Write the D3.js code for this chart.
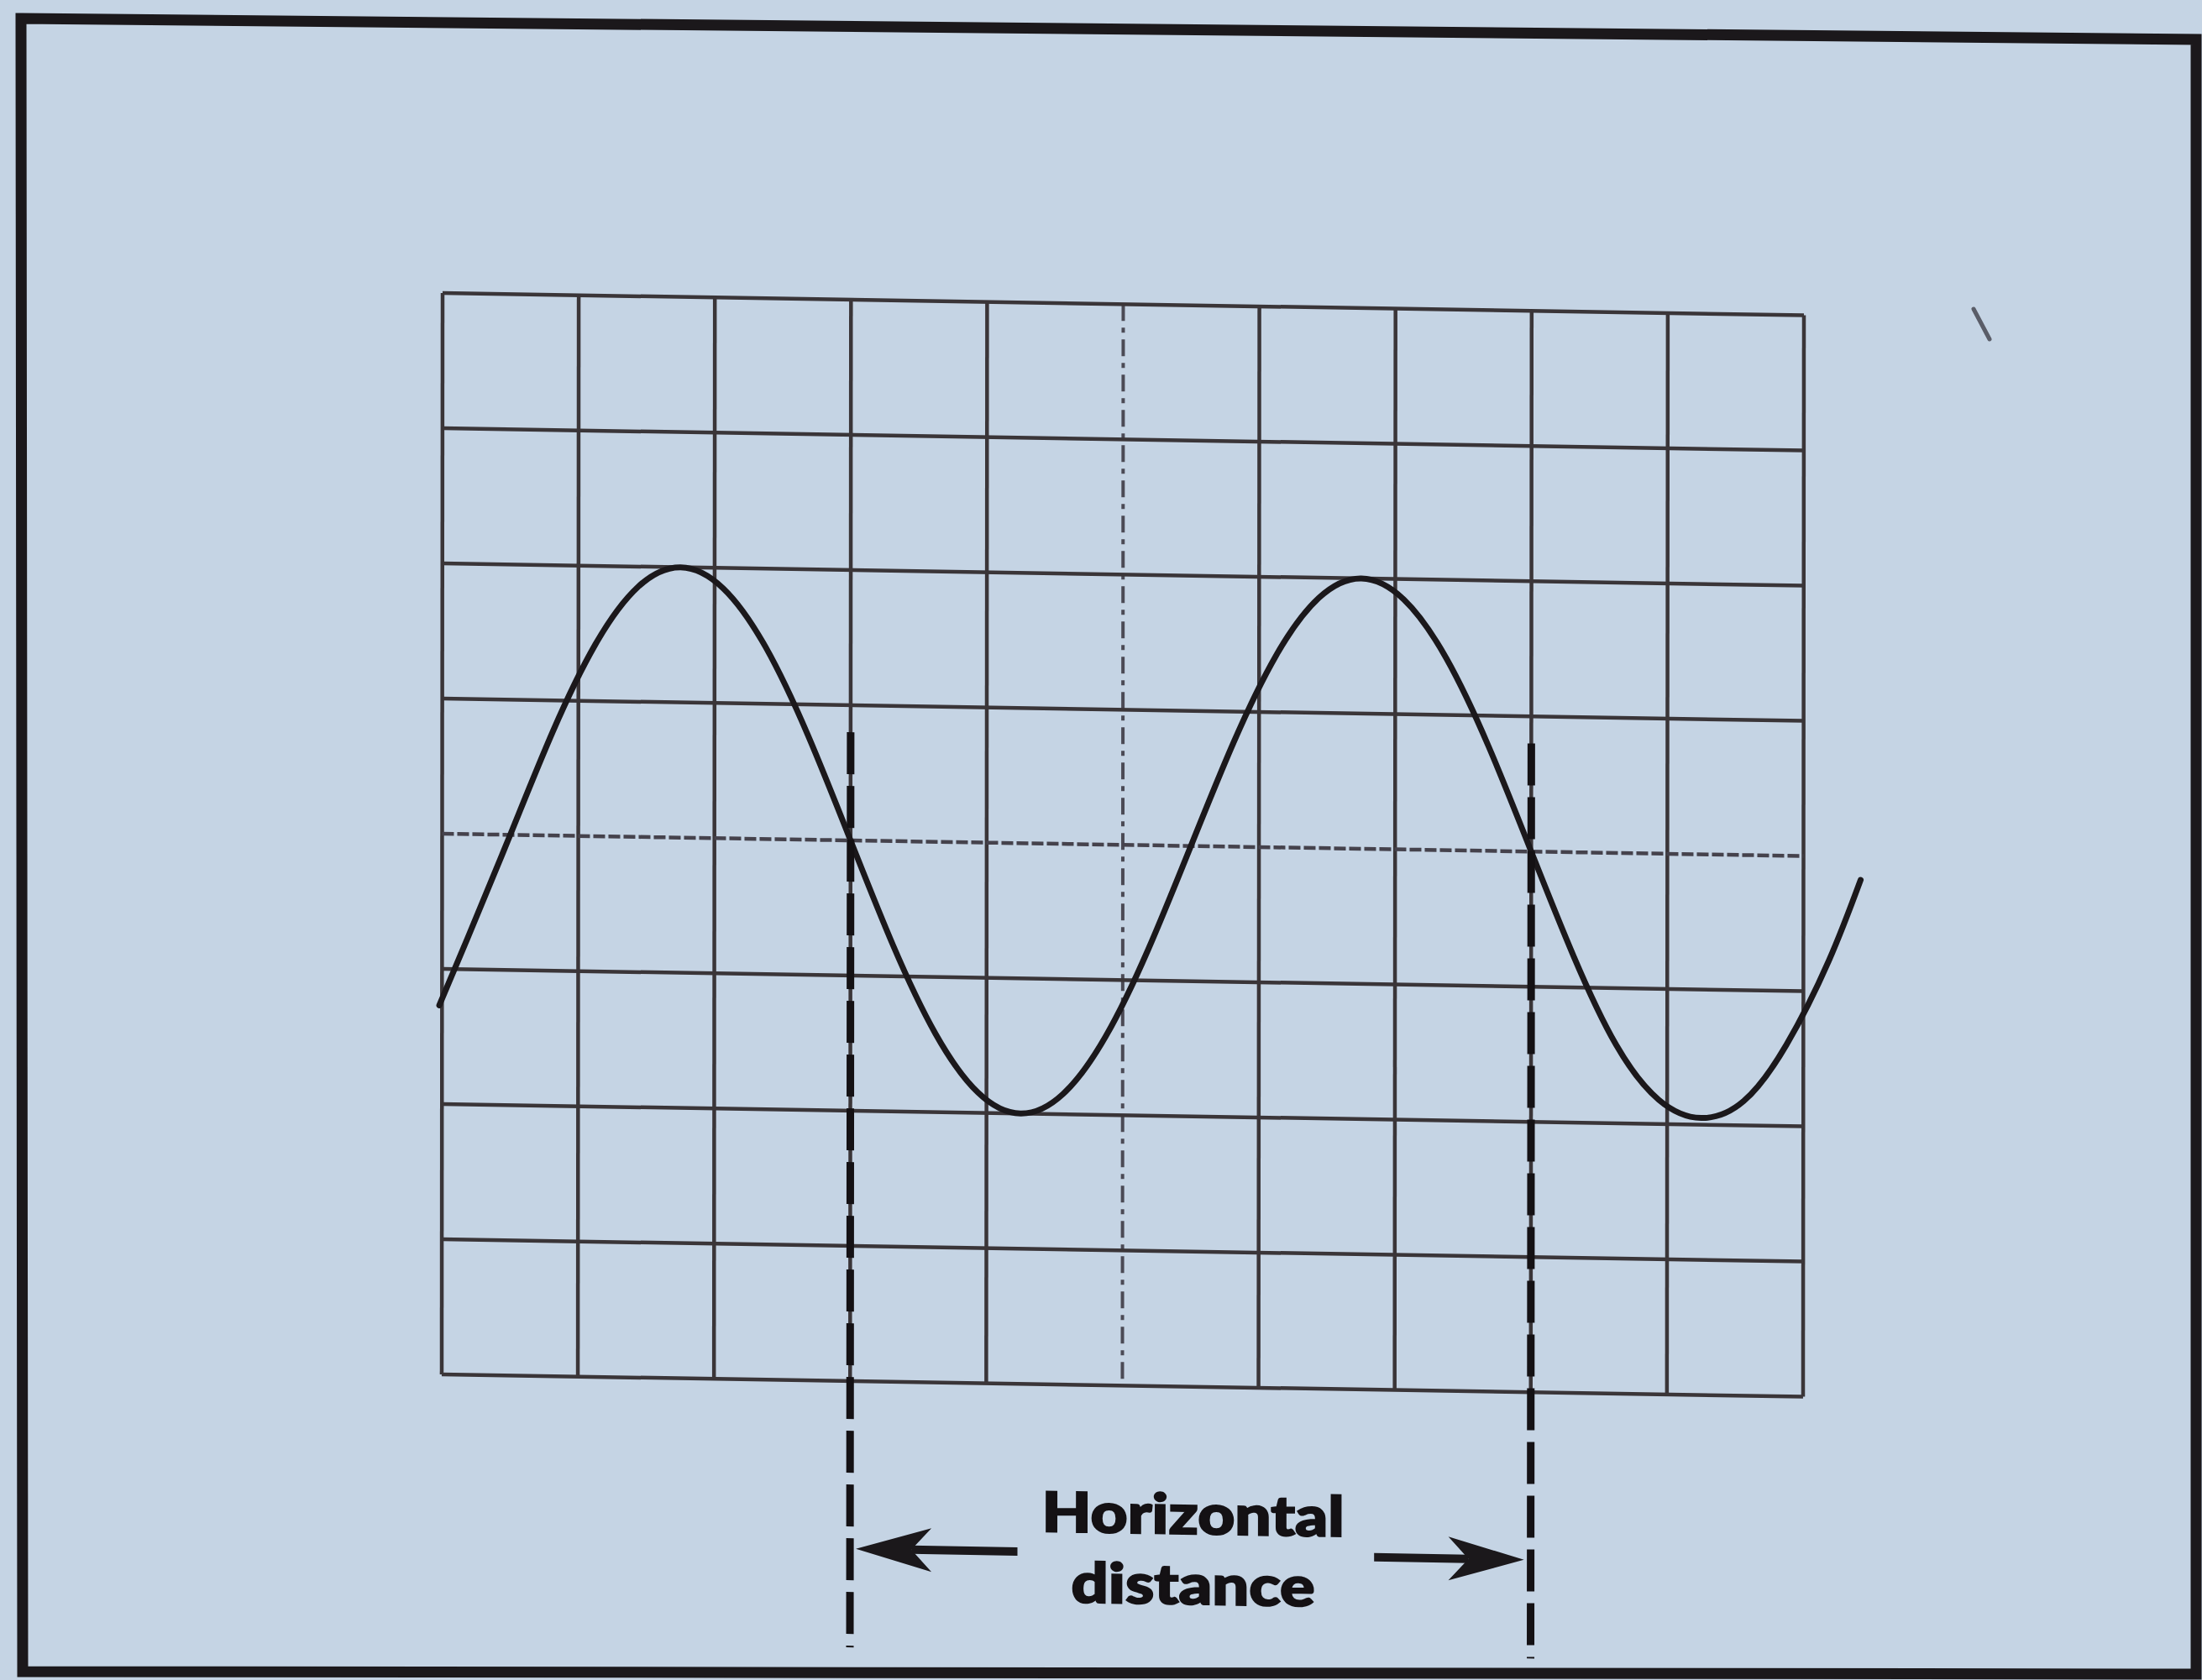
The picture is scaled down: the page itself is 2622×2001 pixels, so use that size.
<!DOCTYPE html>
<html>
<head>
<meta charset="utf-8">
<script src="https://cdn.jsdelivr.net/npm/d3@7"></script>
<style>
  html, body { margin: 0; padding: 0; background: #c5d4e4; }
  svg { display: block; }
</style>
</head>
<body>
<svg id="chart" width="2622" height="2001"></svg>
<script>
// ---- data (in graticule divisions) ----
const xDivisions = [0, 1, 2, 3, 4, 5, 6, 7, 8, 9, 10];
const yDivisions = [-4, -3, -2, -1, 0, 1, 2, 3, 4];
const traceX = [-0.02, 0.1875, 0.5, 0.8125, 1.125, 1.4375, 1.75, 2.0625, 2.375, 2.6875,
                3.0, 3.3125, 3.625, 3.9375, 4.25, 4.5625, 4.875, 5.1875, 5.5, 5.8125,
                6.125, 6.4375, 6.75, 7.0625, 7.375, 7.6875, 8.0, 8.3125, 8.625, 8.9375,
                9.25, 9.5625, 9.875, 10.1875, 10.42];
const traceY = [-1.27, -0.77, 0, 0.77, 1.42, 1.85, 2.0, 1.85, 1.42, 0.77,
                0, -0.77, -1.42, -1.85, -2.0, -1.85, -1.42, -0.77, 0, 0.77,
                1.42, 1.85, 2.0, 1.85, 1.42, 0.77, 0, -0.77, -1.42, -1.82,
                -1.95, -1.82, -1.40, -0.77, -0.17];
const markerX = [3, 8];            // dashed measurement lines
const labelLines = ["Horizontal", "distance"];

// ---- layout ----
const svg = d3.select("#chart");
const ink = "#1b181b";
const gridInk = "#3a3538";

// outer frame (photographed slightly out of square)
const framePts = [[25, 22], [2615, 47], [2615, 1994], [27, 1991]];
svg.append("polygon")
  .attr("points", framePts.map(p => p.join(",")).join(" "))
  .attr("fill", "none")
  .attr("stroke", ink)
  .attr("stroke-width", 13)
  .attr("stroke-linejoin", "miter");

// stray mark on the paper
svg.append("line")
  .attr("x1", 2350).attr("y1", 368).attr("x2", 2369).attr("y2", 404)
  .attr("stroke", "#5a5d68").attr("stroke-width", 5).attr("stroke-linecap", "round");

// graticule group with the photo's slight skew
const g = svg.append("g")
  .attr("transform", "matrix(1,0.0164,-0.0008,1,527,349)");

const x = d3.scaleLinear().domain([0, 10]).range([0, 1621]);
const y = d3.scaleLinear().domain([4, -4]).range([0, 1288]);

// vertical grid lines
g.append("g").selectAll("line")
  .data(xDivisions)
  .join("line")
  .attr("x1", d => x(d)).attr("x2", d => x(d))
  .attr("y1", y(4)).attr("y2", y(-4))
  .attr("stroke", d => d === 5 ? "#4b4a55" : gridInk)
  .attr("stroke-width", d => d === 5 ? 4 : 4.5)
  .attr("stroke-dasharray", d => d === 5 ? "20 8 6 8" : null);

// horizontal grid lines
g.append("g").selectAll("line")
  .data(yDivisions)
  .join("line")
  .attr("x1", x(0)).attr("x2", x(10))
  .attr("y1", d => y(d)).attr("y2", d => y(d))
  .attr("stroke", d => d === 0 ? "#45424c" : gridInk)
  .attr("stroke-width", 4.5)
  .attr("stroke-dasharray", d => d === 0 ? "14 4" : null);

// sine trace
const trace = traceX.map((v, i) => [v, traceY[i]]);
g.append("path")
  .datum(trace)
  .attr("fill", "none")
  .attr("stroke", ink)
  .attr("stroke-width", 7)
  .attr("stroke-linecap", "round")
  .attr("d", d3.line().x(d => x(d[0])).y(d => y(d[1])).curve(d3.curveNatural));

// dashed measurement lines
g.append("g").selectAll("line")
  .data(markerX)
  .join("line")
  .attr("x1", d => x(d)).attr("x2", d => x(d))
  .attr("y1", y(0.8)).attr("y2", y(-5.97))
  .attr("stroke", "#141114")
  .attr("stroke-width", 9)
  .attr("stroke-dasharray", "50 14");

// arrows
const arrowY = y(-5.24);
function arrow(tipX, tailX) {
  const dir = Math.sign(tailX - tipX);
  const headLen = 90, half = 26, notch = 66;
  g.append("line")
    .attr("x1", tipX + dir * notch).attr("x2", tailX)
    .attr("y1", arrowY).attr("y2", arrowY)
    .attr("stroke", ink).attr("stroke-width", 10);
  const pts = [
    [tipX, arrowY],
    [tipX + dir * headLen, arrowY - half],
    [tipX + dir * notch, arrowY],
    [tipX + dir * headLen, arrowY + half]
  ];
  g.append("polygon")
    .attr("points", pts.map(p => p.join(",")).join(" "))
    .attr("fill", ink);
}
arrow(x(markerX[0]) + 7, x(4.23));
arrow(x(markerX[1]) - 8, x(6.85));

// label
const labelY = [-5.09, -5.61];
const labelW = [360, 290];
g.append("g").selectAll("text")
  .data(labelLines)
  .join("text")
  .attr("x", x(5.52))
  .attr("y", (d, i) => y(labelY[i]))
  .attr("text-anchor", "middle")
  .attr("font-family", "Lato, 'DejaVu Sans', sans-serif")
  .attr("font-weight", 900)
  .attr("font-size", 66)
  .attr("fill", "#141114")
  .attr("stroke", "#141114")
  .attr("stroke-width", 2)
  .attr("textLength", (d, i) => labelW[i])
  .attr("lengthAdjust", "spacingAndGlyphs")
  .text(d => d);
</script>
</body>
</html>
